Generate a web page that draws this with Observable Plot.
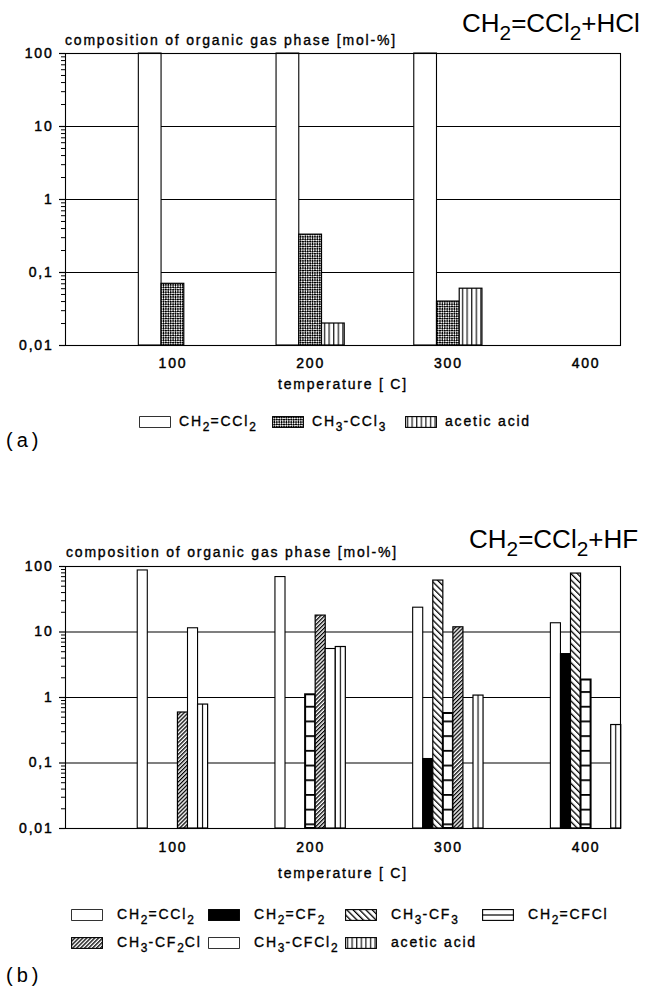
<!DOCTYPE html>
<html>
<head>
<meta charset="utf-8">
<script src="https://cdn.jsdelivr.net/npm/d3@7"></script>
<script src="https://cdn.jsdelivr.net/npm/@observablehq/plot@0.6"></script>
<style>
  html, body { margin: 0; padding: 0; background: #fff; }
  #page { position: relative; width: 648px; height: 990px; overflow: hidden;
          font-family: "Liberation Sans", Arial, sans-serif; color: #000; }
  .abs { position: absolute; white-space: nowrap; }
  .t { font-size: 14px; line-height: 14px; letter-spacing: 1.8px; -webkit-text-stroke: 0.35px #000; }
  .t sub { font-size: 0.85em; vertical-align: -0.45em; line-height: 0; letter-spacing: 1px; }
  .title { font-size: 26px; line-height: 26px; letter-spacing: 0; }
  .title sub { font-size: 0.8em; vertical-align: -8px; line-height: 0; }
  .panel { font-size: 20px; line-height: 20px; letter-spacing: 4px; }
  .chart { position: absolute; left: 0; }
  .chart text { stroke: #000; stroke-width: 0.45px; }
  .legend { position: absolute; display: grid; row-gap: 14px; }
  .item { display: flex; align-items: flex-start; }
  .item svg { flex: none; margin-top: 2px; }
</style>
</head>
<body>
<svg width="0" height="0" style="position:absolute">
  <defs>
    <pattern id="pCross" patternUnits="userSpaceOnUse" width="3.4" height="3.4" patternTransform="rotate(45)">
      <rect width="3.4" height="3.4" fill="#fff"/>
      <rect width="1.9" height="1.9" fill="#000"/>
      <rect x="1.7" y="1.7" width="1.9" height="1.9" fill="#000"/>
    </pattern>
    <pattern id="pVStripe" patternUnits="userSpaceOnUse" width="4.6" height="4">
      <rect width="4.6" height="4" fill="#fff"/>
      <rect x="2" width="1.1" height="4" fill="#000"/>
    </pattern>
    <pattern id="pVLine" patternUnits="objectBoundingBox" width="1" height="1">
      <rect width="100" height="3000" fill="#fff"/>
      <rect x="4.5" width="1.1" height="3000" fill="#000"/>
    </pattern>
    <pattern id="pBack" patternUnits="userSpaceOnUse" width="4.5" height="4.5" patternTransform="rotate(-45)">
      <rect width="4.5" height="4.5" fill="#fff"/>
      <rect width="1.3" height="4.5" fill="#000"/>
    </pattern>
    <pattern id="pFwd" patternUnits="userSpaceOnUse" width="2.8" height="2.8" patternTransform="rotate(45)">
      <rect width="2.8" height="2.8" fill="#fff"/>
      <rect width="1.3" height="2.8" fill="#000"/>
    </pattern>
    <pattern id="pHStripe" patternUnits="userSpaceOnUse" width="10" height="14.7">
      <rect width="10" height="14.7" fill="#fff"/>
      <rect width="10" height="1.8" fill="#000"/>
    </pattern>
  </defs>
</svg>
<div id="page"></div>
<script>
// ---------------- data ----------------
const temperatures = [100, 200, 300, 400];
const xTickLabels = ["100", "200", "300", "400"];
const yTicks = [0.01, 0.1, 1, 10, 100];
const yTickLabels = ["0,01", "0,1", "1", "10", "100"];
const xLabel = "temperature [ C]";
const yLabel = "composition of organic gas phase [mol-%]";

// (a) CH2=CCl2 + HCl
const titleA = "CH2=CCl2+HCl";
const seriesA = ["CH2=CCl2", "CH3-CCl3", "acetic acid"];
const a_CH2CCl2 = [99.9, 99.9, 99.9, null];
const a_CH3CCl3 = [0.07, 0.33, 0.04, null];
const a_acetic  = [null, 0.02, 0.06, null];

// (b) CH2=CCl2 + HF
const titleB = "CH2=CCl2+HF";
const seriesB = ["CH2=CCl2", "CH2=CF2", "CH3-CF3", "CH2=CFCl", "CH3-CF2Cl", "CH3-CFCl2", "acetic acid"];
const b_CH2CCl2  = [87, 69, 23.5, 13.6];
const b_CH2CF2   = [null, null, 0.115, 4.6];
const b_CH3CF3   = [null, null, 61, 78];
const b_CH2CFCl  = [null, 1.1, 0.57, 1.85];
const b_CH3CF2Cl = [0.59, 17.8, 11.8, null];
const b_CH3CFCl2 = [11.4, 5.5, null, null];
const b_acetic   = [0.78, 5.9, 1.07, 0.38];

// ---------------- styles ----------------
const fillsA = ["#fff", "url(#pCross)", "url(#pVStripe)"];
const fillsB = ["#fff", "#000", "url(#pBack)", "url(#pHStripe)", "url(#pFwd)", "#fff", "url(#pVLine)"];
const legendFillsB = ["#fff", "#000", "url(#pBack)", "hstripe", "url(#pFwd)", "#fff", "url(#pVStripe)"];
const strokeWB = [1.1, 1.1, 1.2, 2, 1.2, 1.1, 1.2];
const strokeWA = [1.1, 1.2, 1.2];

const FONT = '"Liberation Sans", Arial, sans-serif';
const xDomain = [22, 425];
const page = document.getElementById("page");

function chem(s) { return s.replace(/(\d)/g, "<sub>$1</sub>"); }

function buildRows(series, values, center, w) {
  const rows = [];
  series.forEach((name, i) => {
    values[i].forEach((v, j) => {
      if (v == null) return;
      const t = temperatures[j];
      const x1 = t + (i - center - 0.5) * w;
      rows.push({name, i, t, v, x1, x2: x1 + w});
    });
  });
  return rows;
}

const minorTicks = [];
for (const d of [0.01, 0.1, 1, 10]) for (let k = 2; k <= 9; k++) minorTicks.push(+(d * k).toPrecision(3));

function chart({series, values, fills, strokeW, center, w, height, marginTop, marginBottom, tickPad}) {
  const rows = buildRows(series, values, center, w);
  const bars = series.map((s, i) => Plot.rect(rows.filter(r => r.i === i), {
    x1: "x1", x2: "x2", y1: yTicks[0], y2: "v",
    fill: fills[i], stroke: "#000", strokeWidth: strokeW[i]
  }));
  return Plot.plot({
    width: 648, height,
    marginTop, marginBottom, marginLeft: 65, marginRight: 28,
    x: {domain: xDomain},
    y: {type: "log", domain: [yTicks[0], yTicks[yTicks.length - 1]]},
    style: {fontFamily: FONT, fontSize: "14px", letterSpacing: "1.8px", color: "#000", background: "transparent", overflow: "visible"},
    marks: [
      Plot.ruleY(yTicks.slice(1, -1), {stroke: "#000", strokeWidth: 1.2}),
      ...bars,
      Plot.frame({stroke: "#000", strokeWidth: 1.1}),
      Plot.axisY(minorTicks, {tickSize: 4, tickFormat: () => "", label: null, strokeWidth: 1}),
      Plot.axisY(yTicks, {tickSize: 6, tickPadding: 6, tickFormat: d => yTickLabels[yTicks.indexOf(d)], label: null, strokeWidth: 1.2}),
      Plot.axisX(temperatures, {tickSize: 0, tickPadding: tickPad, tickFormat: d => xTickLabels[temperatures.indexOf(d)], label: null})
    ]
  });
}

function addText(cls, html, left, top, center) {
  const d = document.createElement("div");
  d.className = "abs " + cls;
  d.innerHTML = html;
  d.style.left = left + "px";
  d.style.top = top + "px";
  if (center) d.style.transform = "translateX(-50%)";
  page.appendChild(d);
  return d;
}

function swatch(fill) {
  const ns = "http://www.w3.org/2000/svg";
  const svg = document.createElementNS(ns, "svg");
  svg.setAttribute("width", 32); svg.setAttribute("height", 12);
  const r = document.createElementNS(ns, "rect");
  r.setAttribute("x", 0.6); r.setAttribute("y", 0.6);
  r.setAttribute("width", 30.8); r.setAttribute("height", 10.8);
  r.setAttribute("fill", fill === "hstripe" ? "#fff" : fill);
  r.setAttribute("stroke", "#000"); r.setAttribute("stroke-width", fill === "#fff" ? 0.8 : 1.1);
  svg.appendChild(r);
  if (fill === "hstripe") {
    const l = document.createElementNS(ns, "line");
    l.setAttribute("x1", 0); l.setAttribute("x2", 32); l.setAttribute("y1", 6); l.setAttribute("y2", 6);
    l.setAttribute("stroke", "#000"); l.setAttribute("stroke-width", 1.2);
    svg.appendChild(l);
  }
  return svg;
}

function legend(series, fills, left, top, cols, colW, gap) {
  const lg = document.createElement("div");
  lg.className = "legend";
  lg.style.left = left + "px"; lg.style.top = top + "px";
  lg.style.gridTemplateColumns = `repeat(${cols}, ${colW}px)`;
  series.forEach((s, i) => {
    const it = document.createElement("div");
    it.className = "item t";
    it.appendChild(swatch(fills[i]));
    const sp = document.createElement("span");
    sp.style.marginLeft = gap + "px";
    sp.innerHTML = chem(s);
    it.appendChild(sp);
    lg.appendChild(it);
  });
  page.appendChild(lg);
}

// ---------- panel (a) ----------
const svgA = chart({series: seriesA, values: [a_CH2CCl2, a_CH3CCl3, a_acetic], fills: fillsA, strokeW: strokeWA,
  center: 1, w: 16.5, height: 400, marginTop: 53, marginBottom: 55, tickPad: 13});
svgA.classList.add("chart"); svgA.style.top = "0px";
page.appendChild(svgA);
addText("title", chem(titleA), 462, 10);
addText("t", yLabel, 65, 33);
addText("t", xLabel, 343, 377, true);
legend(seriesA, fillsA, 139, 414, 3, 133, 8);
addText("panel", "(a)", 6, 430);

// ---------- panel (b) ----------
const svgB = chart({series: seriesB, values: [b_CH2CCl2, b_CH2CF2, b_CH3CF3, b_CH2CFCl, b_CH3CF2Cl, b_CH3CFCl2, b_acetic],
  fills: fillsB, strokeW: strokeWB, center: 3, w: 7.3, height: 360, marginTop: 66, marginBottom: 32, tickPad: 14});
svgB.classList.add("chart"); svgB.style.top = "500px";
page.appendChild(svgB);
addText("title", chem(titleB), 469, 526);
addText("t", yLabel, 66, 545);
addText("t", xLabel, 343, 866, true);
legend(seriesB, legendFillsB, 71, 907, 4, 137, 14);
addText("panel", "(b)", 6, 965);
</script>
</body>
</html>
